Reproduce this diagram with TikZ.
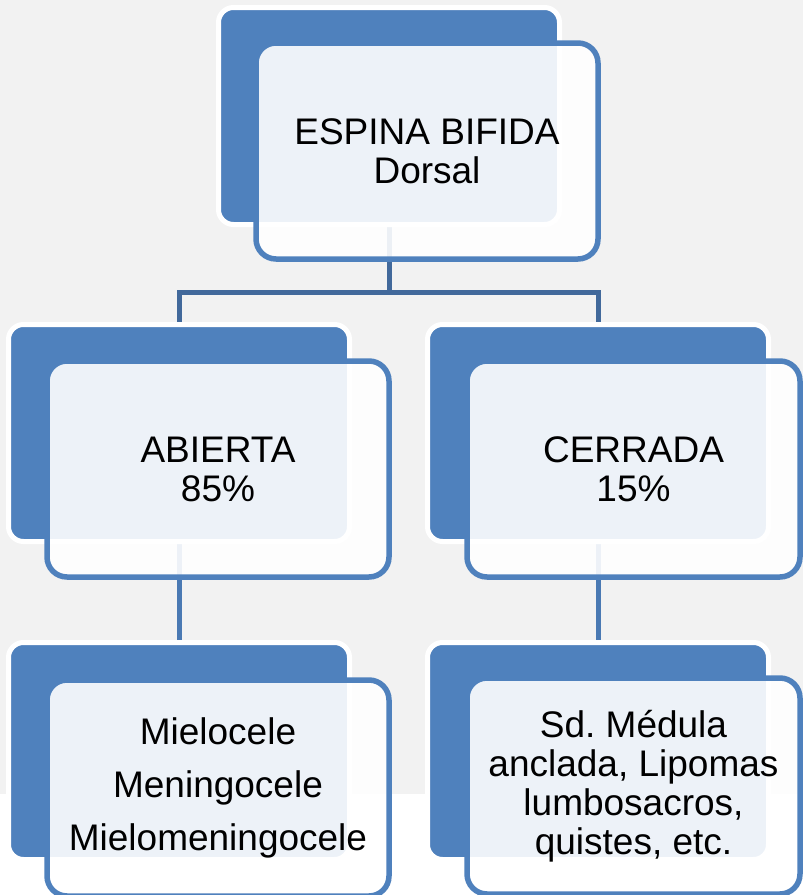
\documentclass[tikz,border=0pt]{standalone}
\usepackage{fontspec}
\setmainfont{Liberation Sans}
\usetikzlibrary{backgrounds}
\definecolor{blue1}{HTML}{4F81BD}
\definecolor{blue2}{HTML}{42699B}
\definecolor{blue4}{HTML}{4A79B3}
\definecolor{gray1}{HTML}{F2F2F2}
\frenchspacing

\begin{document}
\begin{tikzpicture}[x=1pt, y=-1pt,
  back/.style={rectangle, rounded corners=15pt, fill=blue1, draw=white, line width=5pt,
    minimum width=341pt, minimum height=217pt},
  front/.style={rectangle, rounded corners=20pt, fill=white, fill opacity=0.9, text opacity=1,
    draw=blue1, draw opacity=1, line width=5.5pt, minimum width=342pt, minimum height=216pt,
    align=center, font=\fontsize{37pt}{39pt}\selectfont},
  link/.style={blue2, line width=5pt}]

  \useasboundingbox (0,0) rectangle (803,895);

  % back boxes
  \node[back] (topb) at (389,116) {};
  \node[back] (abb) at (179,433) {};
  \node[back] (ceb) at (598,433) {};
  \node[back] (mib) at (179,751) {};
  \node[back] (qub) at (598,751) {};

  % front boxes with the texts
  \node[front] (topf) at (427,151) {ESPINA BIFIDA\\Dorsal};
  \node[front] (abf) at (218,469) {ABIERTA\\85\%};
  \node[front, minimum width=333pt] (cef) at (633.5,469) {CERRADA\\15\%};
  \node[front, font=\fontsize{37pt}{53pt}\selectfont] (mif) at (218,788)
    {Mielocele\\Meningocele\\Mielomeningocele};
  \node[front, minimum width=333pt] (quf) at (633.5,786)
    {Sd. Médula\\anclada, Lipomas\\lumbosacros,\\quistes, etc.};

  \coordinate (split) at (389,292);

  \begin{scope}[on background layer]
    \fill[gray1] (0,0) rectangle (803,794);
    \draw[link] (topb.south) -- (split);
    \draw[link] (split) -| (abb.north);
    \draw[link] (split) -| (ceb.north);
    \draw[link, blue4] (abb.south) -- (mib.north);
    \draw[link, blue4] (ceb.south) -- (qub.north);
  \end{scope}

\end{tikzpicture}
\end{document}
